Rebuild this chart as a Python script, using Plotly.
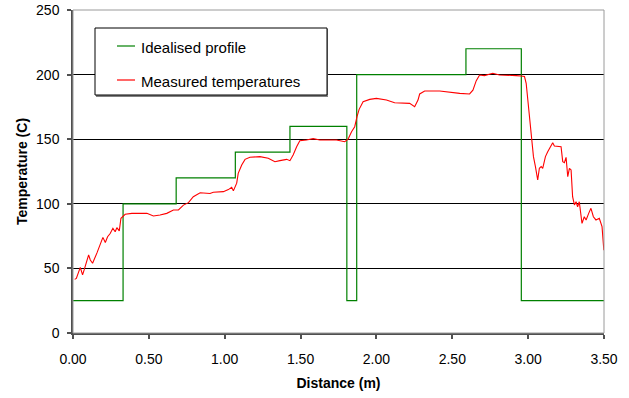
import plotly.graph_objects as go

# ---------------- data ----------------
distance_m = [0.011, 0.022, 0.048, 0.063, 0.074, 0.103, 0.114, 0.129, 0.158, 0.175,
              0.197, 0.213, 0.228, 0.245, 0.263, 0.278, 0.289, 0.305, 0.316, 0.344,
              0.388, 0.487, 0.530, 0.574, 0.618, 0.662, 0.695, 0.728, 0.761, 0.793,
              0.838, 0.903, 0.925, 0.991, 1.024, 1.046, 1.057, 1.079, 1.089, 1.112,
              1.134, 1.166, 1.232, 1.287, 1.331, 1.364, 1.408, 1.430, 1.451, 1.474,
              1.495, 1.539, 1.583, 1.627, 1.737, 1.791, 1.813, 1.836, 1.857, 1.872,
              1.886, 1.912, 1.956, 2.000, 2.066, 2.120, 2.175, 2.219, 2.252, 2.274,
              2.285, 2.318, 2.417, 2.483, 2.549, 2.614, 2.636, 2.658, 2.680, 2.712,
              2.745, 2.767, 2.811, 2.855, 2.921, 2.954, 2.976, 2.987, 3.004, 3.020,
              3.035, 3.048, 3.063, 3.074, 3.086, 3.096, 3.114, 3.129, 3.151, 3.162,
              3.173, 3.195, 3.217, 3.228, 3.239, 3.250, 3.261, 3.272, 3.283, 3.293,
              3.305, 3.316, 3.326, 3.337, 3.355, 3.370, 3.382, 3.399, 3.414, 3.430,
              3.447, 3.469, 3.487, 3.499]
measured_temp = [41.5, 42.3, 50.8, 45.0, 49.0, 60.4, 56.5, 54.0, 62.0, 68.0,
                 74.0, 70.0, 74.5, 77.0, 81.0, 78.4, 81.5, 79.0, 88.8, 91.9,
                 92.6, 92.6, 90.6, 91.3, 92.6, 95.2, 95.2, 99.0, 100.9, 105.5,
                 108.6, 108.0, 108.9, 109.4, 111.0, 112.8, 110.0, 116.0, 123.6, 130.0,
                 134.4, 136.0, 136.5, 135.2, 132.6, 133.4, 134.4, 133.4, 137.8, 144.2,
                 148.8, 149.4, 150.4, 149.4, 149.4, 148.0, 150.0, 155.8, 159.7, 167.4,
                 173.1, 179.0, 180.8, 181.6, 180.3, 178.2, 178.2, 177.7, 175.2, 180.3,
                 185.0, 187.3, 187.3, 186.3, 185.5, 185.0, 188.0, 195.3, 199.7, 199.2,
                 200.5, 201.0, 199.7, 199.7, 199.2, 198.9, 198.5, 193.3, 172.6, 152.0,
                 136.5, 128.8, 118.4, 127.5, 128.8, 127.5, 136.5, 140.3, 145.5, 147.3,
                 144.7, 144.7, 144.2, 132.6, 131.8, 136.0, 121.0, 127.5, 126.2, 105.5,
                 99.1, 101.6, 97.7, 101.6, 84.9, 90.0, 87.5, 92.6, 96.5, 90.0,
                 87.5, 88.8, 82.3, 64.0]

profile_x = [0.0, 0.33, 0.68, 1.07, 1.43, 1.805, 1.87, 2.59, 2.955, 3.5]
profile_T = [25, 100, 120, 140, 160, 25, 200, 220, 25, 25]

x_ticks = [0, 0.5, 1.0, 1.5, 2.0, 2.5, 3.0, 3.5]
x_ticklabels = ["0.00", "0.50", "1.00", "1.50", "2.00", "2.50", "3.00", "3.50"]
y_ticks = [0, 50, 100, 150, 200, 250]
y_ticklabels = ["0", "50", "100", "150", "200", "250"]

series_names = ["Idealised profile", "Measured temperatures"]
series_colors = ["#008000", "#ff0000"]

# ---------------- figure ----------------
W, H = 629, 398
L, R, T, B = 73, 25, 10, 65
PW, PH = W - L - R, H - T - B

def px(xp):
    return (xp - L) / PW

def py(yp):
    return (H - B - yp) / PH

FONT = "Liberation Sans, Arial, sans-serif"

fig = go.Figure()
fig.add_trace(go.Scatter(x=profile_x, y=profile_T, mode="lines", line_shape="hv",
                         line=dict(color=series_colors[0], width=1.2),
                         name=series_names[0], showlegend=False))
fig.add_trace(go.Scatter(x=distance_m, y=measured_temp, mode="lines",
                         line=dict(color=series_colors[1], width=1.1),
                         name=series_names[1], showlegend=False))

shapes = []
# plot-area border (top/right gray)
shapes.append(dict(type="rect", xref="paper", yref="paper", x0=0, x1=1, y0=0, y1=1,
                   line=dict(color="#9a9a9a", width=1), layer="above"))
# legend shadow + box
shapes.append(dict(type="rect", xref="paper", yref="paper",
                   x0=px(96), x1=px(328), y0=py(97), y1=py(29),
                   line=dict(width=0), fillcolor="#808080", layer="above"))
shapes.append(dict(type="rect", xref="paper", yref="paper",
                   x0=px(95), x1=px(327), y0=py(95), y1=py(28),
                   line=dict(color="black", width=1), fillcolor="white", layer="above"))
annotations = []
for i, (yy, name) in enumerate(zip([47, 81], series_names)):
    shapes.append(dict(type="line", xref="paper", yref="paper",
                       x0=px(117), x1=px(135), y0=py(yy - 1), y1=py(yy - 1),
                       line=dict(color=series_colors[i], width=1.2), layer="above"))
    annotations.append(dict(xref="paper", yref="paper", x=px(139), y=py(yy),
                            xanchor="left", yanchor="middle", text=name, showarrow=False,
                            font=dict(family=FONT, size=15, color="black")))

fig.update_layout(
    width=W, height=H,
    margin=dict(l=L, r=R, t=T, b=B),
    paper_bgcolor="white", plot_bgcolor="white",
    font=dict(family=FONT, size=14, color="black"),
    shapes=shapes, annotations=annotations,
    showlegend=False,
)
fig.update_xaxes(range=[0, 3.5], tickvals=x_ticks, ticktext=x_ticklabels,
                 showgrid=False, zeroline=False, automargin=False,
                 showline=True, linecolor="#505050", linewidth=1.5,
                 ticks="outside", ticklen=4, tickcolor="#505050", tickwidth=1.5,
                 ticklabelstandoff=8,
                 tickfont=dict(family=FONT, size=14),
                 title=dict(text="<b>Distance (m)</b>", standoff=13,
                            font=dict(family=FONT, size=14)))
fig.update_yaxes(range=[0, 250], tickvals=y_ticks, ticktext=y_ticklabels,
                 showgrid=True, gridcolor="black", gridwidth=1, zeroline=False,
                 automargin=False,
                 showline=True, linecolor="#505050", linewidth=1.5,
                 ticks="outside", ticklen=4, tickcolor="#505050", tickwidth=1.5,
                 ticklabelstandoff=5,
                 tickfont=dict(family=FONT, size=14),
                 title=dict(text="<b>Temperature (C)</b>", standoff=5,
                            font=dict(family=FONT, size=14)))

fig.write_html("out.html")
